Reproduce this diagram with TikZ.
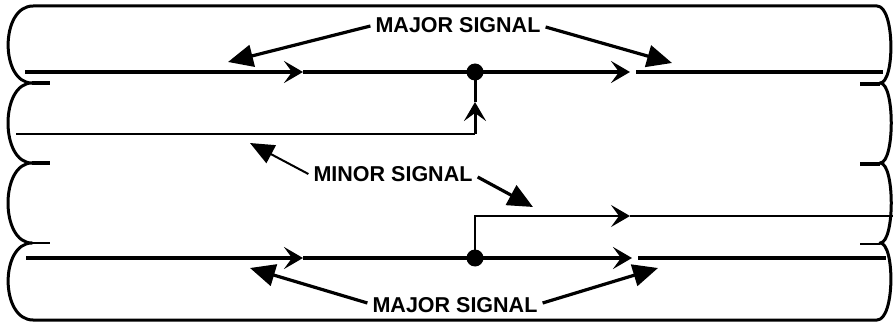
\documentclass[tikz,border=0pt]{standalone}
\usepackage{fontspec}
\setmainfont{Liberation Sans}
\usetikzlibrary{arrows.meta}
\begin{document}
\begin{tikzpicture}[x=1pt,y=-1pt,
  major/.style={line width=4pt},
  minorline/.style={line width=2pt},
  vline/.style={line width=3pt},
  border/.style={line width=3pt,line join=round},
  flow/.style={-{Stealth[length=19pt,width=22pt,inset=8pt]}},
  callout/.style={line width=3.2pt,-{Triangle[length=25pt,width=22pt]}},
  thincallout/.style={line width=2pt,-{Triangle[length=24pt,width=20pt]}},
  lbl/.style={font=\fontsize{21.5}{24}\selectfont\bfseries,inner sep=5pt},
  dot/.style={circle,fill=black,inner sep=0pt,minimum size=17pt}]
\useasboundingbox (0,0) rectangle (893,323);
% border
\draw[border] (33,6) -- (877,6)
  .. controls (895,6) and (895,83) .. (880,83)
  .. controls (895,83) and (895,163) .. (880,163)
  .. controls (895,163) and (895,243) .. (880,243)
  .. controls (895,243) and (895,320) .. (877,320)
  -- (33,320)
  .. controls (0,320) and (0,243) .. (32,243)
  .. controls (0,243) and (0,163) .. (32,163)
  .. controls (0,163) and (0,83) .. (32,83)
  .. controls (0,83) and (0,6) .. (33,6);
% stubs
\draw[major] (32,83) -- (50,83);
\draw[major] (32,163) -- (50,163);
\draw[minorline] (32,243) -- (50,243);
\draw[major] (860,84) -- (880,84);
\draw[major] (860,164) -- (880,164);
\draw[minorline] (860,244) -- (880,244);
% coordinates
\coordinate (t0) at (25,72);
\coordinate (ta) at (303,72);
\coordinate (tb) at (630,72);
\coordinate (tc) at (636,72);
\coordinate (td) at (883,72);
\coordinate (m0) at (16,134);
\coordinate (mj) at (475,134);
\coordinate (mv) at (475,102);
\coordinate (b0) at (26,258);
\coordinate (ba) at (303,258);
\coordinate (bb) at (632,258);
\coordinate (bc) at (638,258);
\coordinate (bd) at (886,258);
\coordinate (bm) at (630,216);
\coordinate (be) at (893,216);
\node[dot] (tj) at (475,72) {};
\node[dot] (bj) at (475,258) {};
% top major
\draw[major,flow] (t0) -- (ta);
\draw[major] (ta) -- (tj.center);
\draw[major,flow] (tj.center) -- (tb);
\draw[major] (tc) -- (td);
% minor top
\draw[minorline] (m0) -- (mj);
\draw[vline,flow] (mj) -- (mv);
\draw[vline] (mv) -- (tj.center);
% bottom major
\draw[major,flow] (b0) -- (ba);
\draw[major] (ba) -- (bj.center);
\draw[major,flow] (bj.center) -- (bb);
\draw[major] (bc) -- (bd);
% minor bottom
\draw[minorline,flow] (bj.center) |- (bm);
\draw[minorline] (bm) -- (be);
% labels
\node[lbl] (maj1) at (458,25) {MAJOR SIGNAL};
\node[lbl] (min1) at (393,174) {MINOR SIGNAL};
\node[lbl] (maj2) at (455,305) {MAJOR SIGNAL};
\coordinate (p1) at (228,62);
\coordinate (p2) at (672,63);
\coordinate (p3) at (250,143);
\coordinate (p4) at (533,207);
\coordinate (p5) at (250,268);
\coordinate (p6) at (658,268);
\draw[callout] ([yshift=-1pt]maj1.west) -- (p1);
\draw[callout] ([yshift=-2pt]maj1.east) -- (p2);
\draw[thincallout] (min1.west) -- (p3);
\draw[callout] ([yshift=-3pt]min1.east) -- (p4);
\draw[callout] ([yshift=2pt]maj2.west) -- (p5);
\draw[callout] ([yshift=2pt]maj2.east) -- (p6);
\end{tikzpicture}
\end{document}
